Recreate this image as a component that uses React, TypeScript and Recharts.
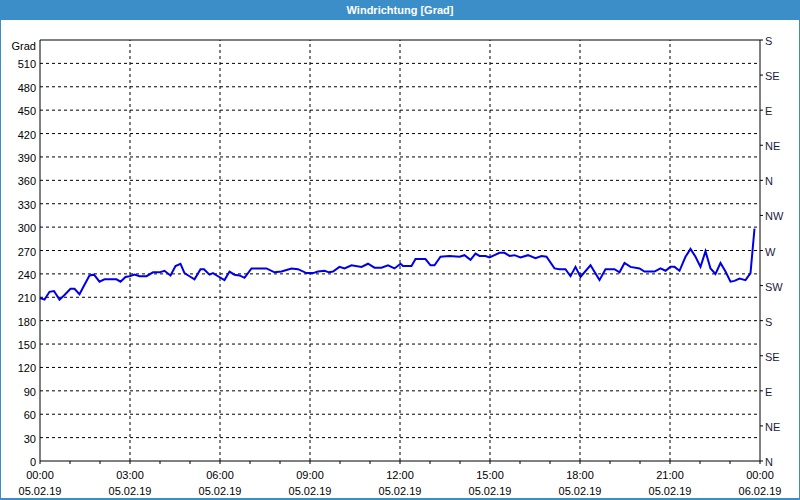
import { LineChart, Line, XAxis, YAxis, ReferenceLine } from "recharts";

// minutes since 05.02.19 00:00
const minutes = [
  0, 9, 19, 28, 39, 49, 61, 69, 79, 89, 99, 108, 119, 129, 153, 161, 171, 179, 189, 199, 213, 226, 239, 249, 261,
  271, 281, 289, 299, 309, 321, 328, 339, 346, 356, 369, 379, 389, 399, 409, 423, 453, 469, 483, 503, 516, 533, 546,
  556, 569, 578, 586, 599, 609, 623, 643, 656, 669, 683, 696, 709, 721, 726, 743, 751, 771, 781, 789, 801, 819, 839,
  849, 861, 871, 879, 891, 899, 909, 919, 929, 939, 949, 961, 976, 991, 1003, 1013, 1029, 1039, 1051, 1061, 1071,
  1081, 1101, 1119, 1131, 1149, 1159, 1169, 1181, 1199, 1209, 1229, 1241, 1251, 1261, 1269, 1279, 1291, 1301, 1311,
  1321, 1331, 1341, 1351, 1361, 1371, 1381, 1389, 1399, 1411, 1421, 1429,
];
const grad = [
  209, 207, 217, 218, 207, 213, 221, 221, 214, 226, 238, 239, 230, 233, 233, 230, 236, 237, 239, 237, 237, 242, 242,
  244, 238, 250, 253, 241, 237, 233, 246, 246, 239, 241, 237, 232, 243, 239, 238, 235, 247, 247, 242, 243, 247, 246,
  241, 241, 243, 244, 242, 243, 249, 247, 251, 249, 253, 248, 248, 251, 247, 253, 250, 250, 259, 259, 251, 251, 262,
  263, 262, 264, 258, 266, 263, 263, 261, 264, 267, 267, 263, 264, 261, 264, 260, 263, 262, 247, 246, 246, 237, 249,
  236, 251, 232, 246, 246, 242, 254, 249, 247, 243, 243, 247, 244, 249, 249, 244, 262, 272, 262, 249, 269, 247, 240,
  254, 243, 230, 231, 234, 232, 241, 298,
];

const leftTicks = [0, 30, 60, 90, 120, 150, 180, 210, 240, 270, 300, 330, 360, 390, 420, 450, 480, 510, 540];
const rightTicks = [0, 45, 90, 135, 180, 225, 270, 315, 360, 405, 450, 495, 540];
const rightLabels = ["N", "NE", "E", "SE", "S", "SW", "W", "NW", "N", "NE", "E", "SE", "S"];
const hourTicks = [
  0, 60, 120, 180, 240, 300, 360, 420, 480, 540, 600, 660, 720, 780, 840, 900, 960, 1020, 1080, 1140, 1200, 1260,
  1320, 1380, 1440,
];
const gridX = [180, 360, 540, 720, 900, 1080, 1260];
const gridY = [30, 60, 90, 120, 150, 180, 210, 240, 270, 300, 330, 360, 390, 420, 450, 480, 510];
const timeLabels: Record<number, [string, string]> = {
  0: ["00:00", "05.02.19"],
  180: ["03:00", "05.02.19"],
  360: ["06:00", "05.02.19"],
  540: ["09:00", "05.02.19"],
  720: ["12:00", "05.02.19"],
  900: ["15:00", "05.02.19"],
  1080: ["18:00", "05.02.19"],
  1260: ["21:00", "05.02.19"],
  1440: ["00:00", "06.02.19"],
};

const data = minutes.map((m, i) => ({ t: m, v: grad[i] }));

const FONT = "'Liberation Sans', Arial, sans-serif";
const BLUE = "#3b8ec8";

function TimeTick(props: any) {
  const { x, y, payload } = props;
  const lbl = timeLabels[payload.value];
  return (
    <g>
      <line x1={x} y1={y} x2={x} y2={y + 3} stroke="#000" />
      {lbl && (
        <text x={x} textAnchor="middle" fontSize={11} fontFamily={FONT} fill="#000">
          <tspan x={x} y={y + 18}>{lbl[0]}</tspan>
          <tspan x={x} y={y + 34}>{lbl[1]}</tspan>
        </text>
      )}
    </g>
  );
}

function LeftTick(props: any) {
  const { x, y, payload } = props;
  const isTop = payload.value === 540;
  return (
    <text x={x} y={y + (isTop ? 10 : 5)} textAnchor="end" fontSize={11} fontFamily={FONT} fill="#000">
      {isTop ? "Grad" : payload.value}
    </text>
  );
}

function RightTick(props: any) {
  const { x, y, payload } = props;
  const idx = rightTicks.indexOf(Number(payload.value));
  return (
    <text x={x} y={y + 5} textAnchor="start" fontSize={11} fontFamily={FONT} fill="#1a1a40">
      {rightLabels[idx]}
    </text>
  );
}

export default function App() {
  return (
    <div style={{ position: "fixed", left: 0, top: 0, width: 800, height: 500, background: "#fff", overflow: "hidden" }}>
      <div
        style={{
          position: "absolute",
          left: 0,
          top: 0,
          width: 800,
          height: 20,
          background: BLUE,
          color: "#fff",
          fontFamily: FONT,
          fontWeight: "bold",
          fontSize: 11,
          lineHeight: "20px",
          textAlign: "center",
        }}
      >
        Windrichtung [Grad]
      </div>
      <div style={{ position: "absolute", left: 0, top: 20 }}>
        <LineChart width={800} height={480} data={data} margin={{ top: 20, right: 0, bottom: 0, left: 0 }}>
          <XAxis
            dataKey="t"
            type="number"
            domain={[0, 1440]}
            ticks={hourTicks}
            interval={0}
            height={39}
            tickSize={0}
            tickMargin={0}
            tickLine={false}
            axisLine={{ stroke: "#000" }}
            tick={<TimeTick />}
          />
          <YAxis
            yAxisId="left"
            domain={[0, 540]}
            ticks={leftTicks}
            interval={0}
            width={40}
            tickSize={0}
            tickMargin={4}
            tickLine={false}
            axisLine={{ stroke: "#000" }}
            tick={<LeftTick />}
          />
          <YAxis
            yAxisId="right"
            orientation="right"
            type="number"
            domain={[0, 540]}
            allowDataOverflow
            ticks={rightTicks}
            interval={0}
            width={40}
            tickSize={3}
            tickMargin={2}
            tickLine={{ stroke: "#000" }}
            axisLine={{ stroke: "#000" }}
            tick={<RightTick />}
          />
          {gridY.map((v) => (
            <ReferenceLine key={"y" + v} yAxisId="left" y={v} stroke="#000" strokeDasharray="3 3" />
          ))}
          {gridX.map((v) => (
            <ReferenceLine key={"x" + v} yAxisId="left" x={v} stroke="#000" strokeDasharray="3 3" />
          ))}
          <ReferenceLine yAxisId="left" y={540} stroke="#000" />
          {/* carries the compass scale so the right axis gets its ticks */}
          <Line
            yAxisId="right"
            type="linear"
            dataKey="v"
            stroke="none"
            dot={false}
            activeDot={false}
            isAnimationActive={false}
          />
          <Line
            yAxisId="left"
            type="linear"
            dataKey="v"
            stroke="#0000e6"
            strokeWidth={2}
            dot={false}
            isAnimationActive={false}
          />
        </LineChart>
      </div>
      <div
        style={{
          position: "absolute",
          left: 0,
          top: 0,
          width: 800,
          height: 500,
          boxSizing: "border-box",
          borderLeft: `1px solid ${BLUE}`,
          borderRight: `1px solid ${BLUE}`,
          borderBottom: `2px solid ${BLUE}`,
          pointerEvents: "none",
        }}
      />
    </div>
  );
}
